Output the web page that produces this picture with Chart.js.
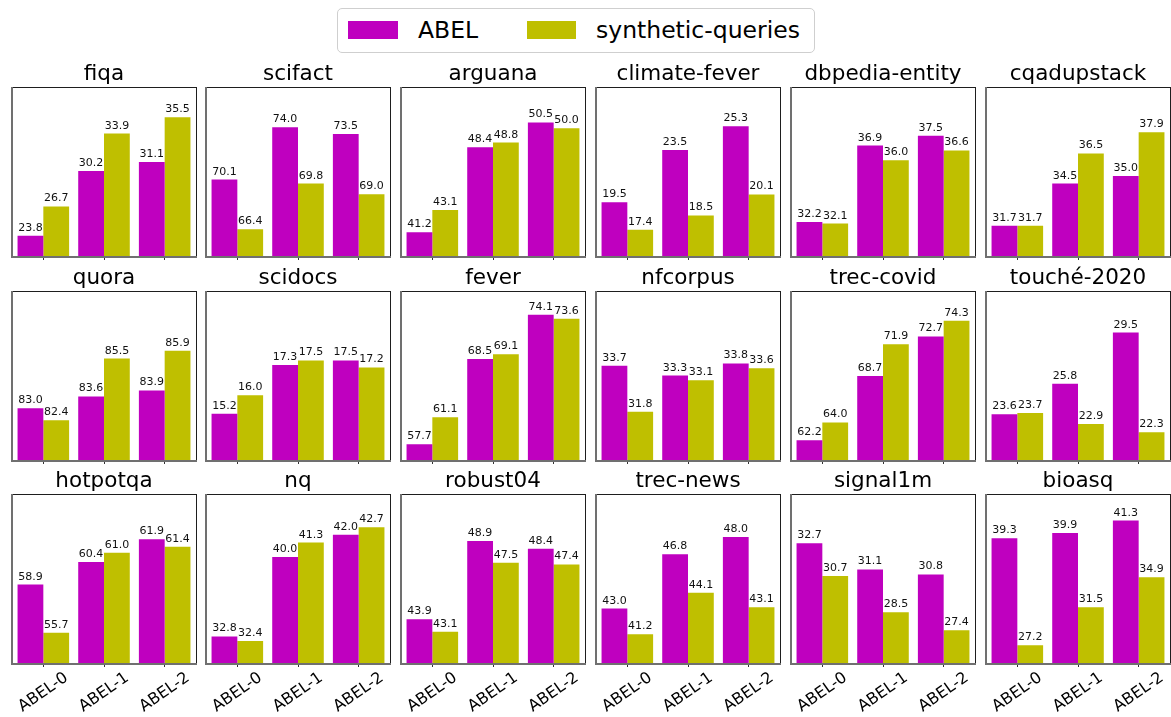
<!DOCTYPE html>
<html>
<head>
<meta charset="utf-8">
<script src="https://cdn.jsdelivr.net/npm/chart.js@4.4.0/dist/chart.umd.min.js"></script>
<style>
  body { margin: 0; background: #fff; width: 1171px; height: 717px; position: relative; overflow: hidden;
         font-family: "DejaVu Sans", sans-serif; }
  .cell { position: absolute; }
  #legend { position: absolute; left: 337px; top: 8px; width: 476px; height: 43px;
            border: 1.5px solid #cfcfcf; border-radius: 5px; background: #fff; }
  .patch { position: absolute; top: 12px; height: 18px; }
  .ltext { position: absolute; top: 7px; font-size: 23.5px; line-height: 28px; color: #000; white-space: nowrap; }
</style>
</head>
<body>
<div id="legend">
  <div class="patch" style="left:10px;width:50px;background:#bf00bf"></div>
  <div class="ltext" style="left:80px">ABEL</div>
  <div class="patch" style="left:189px;width:49px;background:#bfbf00"></div>
  <div class="ltext" style="left:258px">synthetic-queries</div>
</div>
<script>
// categories on each x axis
const categories = ['ABEL-0', 'ABEL-1', 'ABEL-2'];
const seriesNames = ['ABEL', 'synthetic-queries'];

// one subplot per dataset, row by row
const titles = [
  'fiqa', 'scifact', 'arguana', 'climate-fever', 'dbpedia-entity', 'cqadupstack',
  'quora', 'scidocs', 'fever', 'nfcorpus', 'trec-covid', 'touché-2020',
  'hotpotqa', 'nq', 'robust04', 'trec-news', 'signal1m', 'bioasq'
];

const abelScores = [
  [23.8, 30.2, 31.1], [70.1, 74.0, 73.5], [41.2, 48.4, 50.5], [19.5, 23.5, 25.3], [32.2, 36.9, 37.5], [31.7, 34.5, 35.0],
  [83.0, 83.6, 83.9], [15.2, 17.3, 17.5], [57.7, 68.5, 74.1], [33.7, 33.3, 33.8], [62.2, 68.7, 72.7], [23.6, 25.8, 29.5],
  [58.9, 60.4, 61.9], [32.8, 40.0, 42.0], [43.9, 48.9, 48.4], [43.0, 46.8, 48.0], [32.7, 31.1, 30.8], [39.3, 39.9, 41.3]
];

const syntheticScores = [
  [26.7, 33.9, 35.5], [66.4, 69.8, 69.0], [43.1, 48.8, 50.0], [17.4, 18.5, 20.1], [32.1, 36.0, 36.6], [31.7, 36.5, 37.9],
  [82.4, 85.5, 85.9], [16.0, 17.5, 17.2], [61.1, 69.1, 73.6], [31.8, 33.1, 33.6], [64.0, 71.9, 74.3], [23.7, 22.9, 22.3],
  [55.7, 61.0, 61.4], [32.4, 41.3, 42.7], [43.1, 47.5, 47.4], [41.2, 44.1, 43.1], [30.7, 28.5, 27.4], [27.2, 31.5, 34.9]
];

const colors = ['#bf00bf', '#bfbf00'];

// grid geometry (box = plotting frame of each subplot)
const colLeft = [11, 205, 400, 595, 790, 985];
const rowTop = [87, 291, 494];
const boxW = 186, boxH = 169;
const titleSpace = 30, tickLen = 4;

// frame around the plot, matplotlib style
const spinesPlugin = {
  id: 'spines',
  afterDatasetsDraw(chart) {
    const { ctx, chartArea: a } = chart;
    const L = a.left - 2, R = a.right + 2, T = a.top, B = a.bottom;
    ctx.save();
    ctx.fillStyle = '#1e1e1e';
    ctx.fillRect(L, T, R - L, 1);
    ctx.fillRect(R - 1, T, 1, B - T);
    ctx.fillStyle = '#707070';
    ctx.fillRect(L, T, 2, B - T + 2);
    ctx.fillRect(L, B, R - L, 2);
    ctx.restore();
  }
};

// numbers on top of the bars
const valueLabels = {
  id: 'valueLabels',
  afterDatasetsDraw(chart) {
    const ctx = chart.ctx;
    ctx.save();
    ctx.font = '11px "DejaVu Sans"';
    ctx.fillStyle = '#111';
    ctx.textAlign = 'center';
    ctx.textBaseline = 'alphabetic';
    chart.data.datasets.forEach((ds, di) => {
      chart.getDatasetMeta(di).data.forEach((bar, i) => {
        ctx.fillText(ds.data[i].toFixed(1), bar.x, bar.y - 5);
      });
    });
    ctx.restore();
  }
};

// rotated category labels, centred under each tick (bottom row only)
const rotLabels = {
  id: 'rotLabels',
  afterDraw(chart, args, opts) {
    if (!opts.show) return;
    const { ctx, chartArea: a } = chart;
    const xs = chart.scales.x;
    const ang = 35 * Math.PI / 180;
    const size = 16;
    ctx.save();
    ctx.font = size + 'px "DejaVu Sans"';
    ctx.fillStyle = '#000';
    ctx.textAlign = 'center';
    ctx.textBaseline = 'middle';
    xs.ticks.forEach((t, i) => {
      const label = categories[i];
      const w = ctx.measureText(label).width;
      const h = size * 1.1;
      const bh = w * Math.sin(ang) + h * Math.cos(ang);
      const x = xs.getPixelForTick(i);
      const y = a.bottom + tickLen + 2 + bh / 2;
      ctx.save();
      ctx.translate(x, y);
      ctx.rotate(-ang);
      ctx.fillText(label, 0, 0);
      ctx.restore();
    });
    ctx.restore();
  }
};

titles.forEach((title, k) => {
  const r = Math.floor(k / 6), c = k % 6;
  const extra = r === 2 ? 50 : 2;
  const div = document.createElement('div');
  div.className = 'cell';
  div.style.left = (colLeft[c] - 3) + 'px';
  div.style.top = (rowTop[r] - titleSpace) + 'px';
  div.style.width = (boxW + 6) + 'px';
  div.style.height = (titleSpace + boxH + tickLen + extra) + 'px';
  const cv = document.createElement('canvas');
  div.appendChild(cv);
  document.body.appendChild(div);

  const a = abelScores[k], s = syntheticScores[k];
  const lo = Math.min(...a, ...s), hi = Math.max(...a, ...s);

  new Chart(cv, {
    type: 'bar',
    data: {
      labels: categories,
      datasets: [
        { label: seriesNames[0], data: a, backgroundColor: colors[0], borderWidth: 0 },
        { label: seriesNames[1], data: s, backgroundColor: colors[1], borderWidth: 0 }
      ]
    },
    options: {
      responsive: true,
      maintainAspectRatio: false,
      animation: false,
      devicePixelRatio: 1,
      categoryPercentage: 0.85,
      barPercentage: 1.0,
      layout: { padding: { left: 5, right: 5, top: 0, bottom: extra } },
      scales: {
        x: {
          grid: { display: true, drawOnChartArea: false, drawTicks: true, tickLength: tickLen,
                  offset: false, color: '#333', lineWidth: 1 },
          border: { display: false },
          ticks: { display: false }
        },
        y: { display: false, min: lo - 2, max: hi + 3 }
      },
      plugins: {
        legend: { display: false },
        tooltip: { enabled: false },
        title: {
          display: true, text: title, color: '#000',
          font: { family: '"DejaVu Sans"', size: 21.5, weight: 'normal', lineHeight: 1.2 },
          padding: { top: 4.2, bottom: 0 }
        },
        rotLabels: { show: r === 2 }
      }
    },
    plugins: [spinesPlugin, valueLabels, rotLabels]
  });
});
</script>
</body>
</html>
